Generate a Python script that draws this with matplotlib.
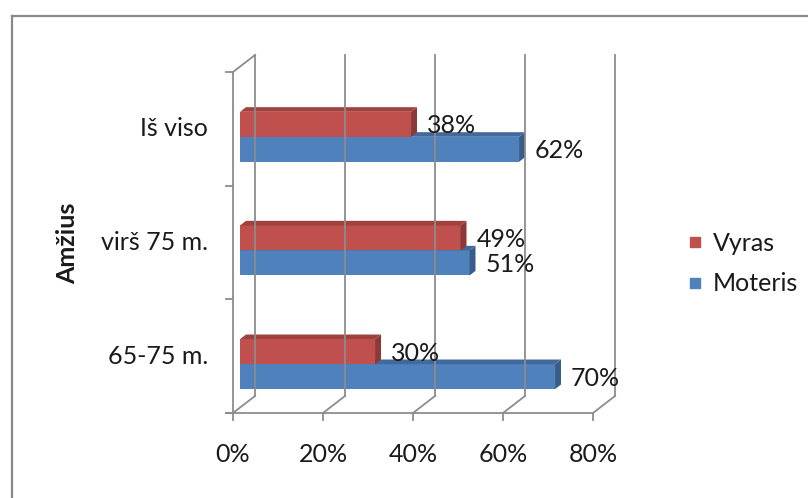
import matplotlib.pyplot as plt
from matplotlib.patches import Polygon
from matplotlib.lines import Line2D

plt.rcParams['font.family'] = ['Lato', 'DejaVu Sans']

categories = ['65-75 m.', 'virš 75 m.', 'Iš viso']
vyras = [30, 49, 38]
moteris = [70, 51, 62]
xticks = [0, 20, 40, 60, 80]
xtick_labels = ['0%', '20%', '40%', '60%', '80%']

W, H = 808, 498
fig = plt.figure(figsize=(W / 100, H / 100), dpi=100)

# outer chart border (only top / left visible in the crop)
fig.add_artist(Line2D([12 / W, 1], [1 - 16 / H, 1 - 16 / H], color='#8a8a8a', lw=1.6))
fig.add_artist(Line2D([12 / W, 12 / W], [0, 1 - 16 / H], color='#8a8a8a', lw=1.6))

# axes = front plane of the 3-d box
ax = fig.add_axes([233 / W, 1 - 413 / H, 360 / W, 341 / H])
ax.set_xlim(0, 80)
ax.set_ylim(-0.5, 2.5)
ax.axis('off')

DX, DY = 4.9, 0.15  # depth of box in data units


def P(x, y, d):
    return (x + d * DX, y + d * DY)


gc = '#8c8c8c'
glw = 1.3


def seg(p, q):
    ax.add_line(Line2D([p[0], q[0]], [p[1], q[1]], color=gc, lw=glw, clip_on=False))


y0, y1 = -0.5, len(categories) - 0.5
# back wall gridlines + floor
for x in xticks:
    seg(P(x, y0, 1), P(x, y1, 1))
    seg(P(x, y0, 0), P(x, y0, 1))
    seg(P(x, y0, 0), ax.transData.inverted().transform(ax.transData.transform(P(x, y0, 0)) + [0, -7]))
# left wall
seg(P(0, y0, 0), P(0, y1, 0))
seg(P(0, y1, 0), P(0, y1, 1))
# front floor edge
seg(ax.transData.inverted().transform(ax.transData.transform(P(0, y0, 0)) + [-7, 0]), P(80, y0, 0))
# category ticks
for i in range(len(categories) + 1):
    p = P(0, y0 + i, 0)
    seg(p, ax.transData.inverted().transform(ax.transData.transform(p) + [-7, 0]))

# bars
f1, f2 = 0.32, 0.59
shift = -0.118
bh = 0.22
series = [
    (moteris, -1, '#4f81bd', '#41699b', '#385d8a'),
    (vyras, 0, '#c0504d', '#a0413e', '#8c3836'),
]
for i in range(len(categories)):
    for vals, off, cf, ct, cs in series:
        v = vals[i]
        b = i + shift + off * bh
        t = b + bh
        ax.add_patch(Polygon([P(0, b, f1), P(v, b, f1), P(v, t, f1), P(0, t, f1)],
                             closed=True, fc=cf, ec='none', clip_on=False))
        ax.add_patch(Polygon([P(0, t, f1), P(v, t, f1), P(v, t, f2), P(0, t, f2)],
                             closed=True, fc=ct, ec='none', clip_on=False))
        ax.add_patch(Polygon([P(v, b, f1), P(v, b, f2), P(v, t, f2), P(v, t, f1)],
                             closed=True, fc=cs, ec='none', clip_on=False))
        ax.annotate('%d%%' % v, xy=P(v, (b + t) / 2, f1), xytext=(11.5, -1),
                    textcoords='offset points', ha='left', va='center',
                    fontsize=18, color='#1a1a1a', annotation_clip=False)

# tick labels
for x, lab in zip(xticks, xtick_labels):
    ax.annotate(lab, xy=P(x, y0, 0), xytext=(0, -30), textcoords='offset points',
                ha='center', va='center', fontsize=18, color='#1a1a1a', annotation_clip=False)
for i, cat in enumerate(categories):
    ax.annotate(cat, xy=P(0, i, 0), xytext=(-18, 0), textcoords='offset points',
                ha='right', va='center', fontsize=18, color='#1a1a1a', annotation_clip=False)

fig.text(68 / W, 1 - 243 / H, 'Amžius', rotation=90, ha='center', va='center',
         fontsize=18, fontweight='bold', color='#1a1a1a')

handles = [Line2D([], [], marker='s', ls='none', ms=7, mfc='#c0504d', mec='#c0504d'),
           Line2D([], [], marker='s', ls='none', ms=7, mfc='#4f81bd', mec='#4f81bd')]
ax.legend(handles, ['Vyras', 'Moteris'], loc='center left',
          bbox_to_anchor=(685 / W, 1 - 263.5 / H), bbox_transform=fig.transFigure,
          frameon=False, fontsize=18, borderpad=0, borderaxespad=0,
          handlelength=0.8, handletextpad=0.3, labelspacing=0.7,
          labelcolor='#1a1a1a')

plt.savefig('out.png', dpi=100)
